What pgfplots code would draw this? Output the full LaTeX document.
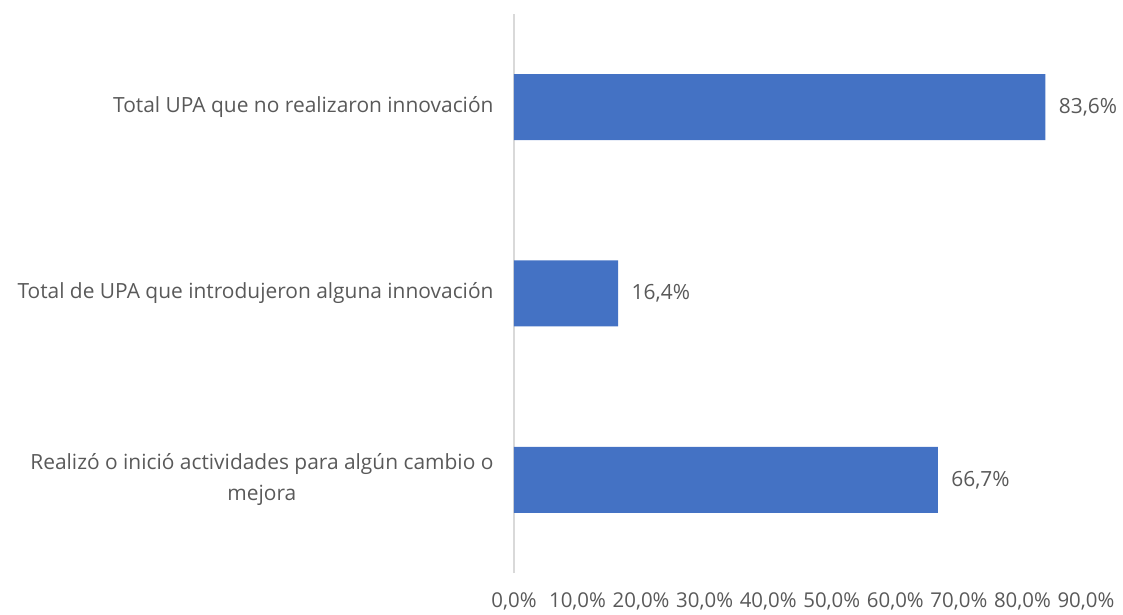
\documentclass[border=0pt]{standalone}
\usepackage{pgfplots}
\pgfplotsset{compat=1.18}
\usepackage{fontspec}
\setmainfont{Open Sans}
\definecolor{barc}{HTML}{4472C4}
\definecolor{txt}{HTML}{595959}
\definecolor{axl}{HTML}{D9D9D9}
\begin{document}
\begin{tikzpicture}
\begin{axis}[name=ax, scale only axis, width=572bp, height=559bp,
  xbar, bar width=66bp,
  xmin=0, xmax=90, ymin=-0.5, ymax=2.5,
  ytick={0,1,2},
  yticklabels={{Realizó o inició actividades para algún cambio o\\mejora},{Total de UPA que introdujeron alguna innovación},{Total UPA que no realizaron innovación}},
  yticklabel style={align=center, font=\fontsize{21}{31}\selectfont, text=txt, xshift=-17bp},
  xtick={0,10,...,90},
  xticklabel={\pgfmathprintnumber{\tick}\%},
  xticklabel style={font=\fontsize{20.5}{22}\selectfont, text=txt, yshift=-16bp},
  /pgf/number format/.cd, fixed, fixed zerofill, precision=1, use comma, assume math mode=true,
  /pgfplots/.cd,
  major tick length=0,
  separate axis lines,
  axis x line*=bottom, axis y line*=left,
  x axis line style={draw=none},
  y axis line style={draw=axl, line width=1.5bp},
  point meta=x,
  nodes near coords={\pgfmathprintnumber{\pgfplotspointmeta}\%},
  nodes near coords align=horizontal,
  every node near coord/.append style={font=\fontsize{21}{24}\selectfont, text=txt, xshift=10bp},
]
\addplot[fill=barc, draw=none] coordinates {(66.7,0) (16.4,1) (83.6,2)};
\end{axis}
\path (ax.south west) ++(-514bp,-42bp) rectangle ++(1123bp,615bp);
\end{tikzpicture}
\end{document}
